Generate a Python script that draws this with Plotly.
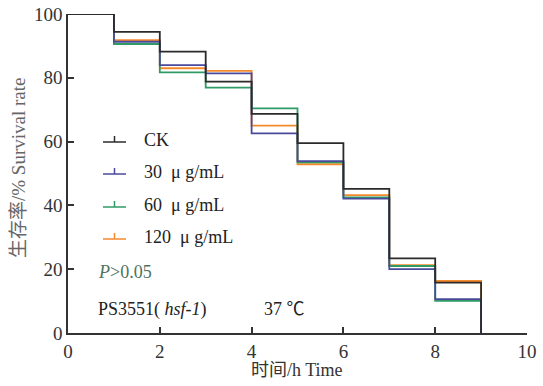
import plotly.graph_objects as go

# ---- data ----
times = [0, 1, 2, 3, 4, 5, 6, 7, 8, 9, 9]
series_names = ["CK", "30\u00a0\u00a0μ g/mL", "60\u00a0\u00a0μ g/mL", "120\u00a0\u00a0μ g/mL"]
ck    = [100, 94.4, 88.2, 78.8, 68.7, 59.5, 45.2, 23.4, 15.8, 15.8, 0]
c30   = [100, 91.3, 84.0, 81.4, 62.6, 53.9, 42.1, 20.0, 10.6, 10.6, 0]
c60   = [100, 90.6, 81.7, 76.9, 70.4, 53.5, 42.5, 21.0, 10.1, 10.1, 0]
c120  = [100, 91.8, 83.0, 82.2, 65.0, 52.9, 43.2, 21.3, 16.3, 16.3, 0]
colors = ["#2b2b2b", "#4a4a9c", "#2f9a66", "#f58a2c"]
x_ticks = [0, 2, 4, 6, 8, 10]
y_ticks = [0, 20, 40, 60, 80, 100]

W, H = 543, 386
PL, PR, PT, PB = 68, 527, 14, 333   # plot area in page pixels
L, T, R, B = PL, PT, W - PR, H - PB
pw, ph = PR - PL, PB - PT

def px(x):
    return (x - PL) / pw

def py(y):
    return (PB - y) / ph

FONT = "Liberation Serif, Noto Sans CJK SC"

fig = go.Figure()
data = [ck, c30, c60, c120]
order = [3, 2, 1, 0]
for i in order:
    fig.add_trace(go.Scatter(
        x=times, y=data[i], mode="lines", line_shape="hv",
        line=dict(color=colors[i], width=1.8),
        name=series_names[i], showlegend=False, cliponaxis=False,
    ))

shapes = []
annotations = []
rows = [140, 172, 205, 237]
for i, name in enumerate(series_names):
    ly = rows[i] + 2
    shapes.append(dict(type="line", xref="paper", yref="paper",
                       x0=px(103), x1=px(126), y0=py(ly), y1=py(ly),
                       line=dict(color=colors[i], width=1.5)))
    shapes.append(dict(type="line", xref="paper", yref="paper",
                       x0=px(114.5), x1=px(114.5), y0=py(ly), y1=py(ly - 6),
                       line=dict(color=colors[i], width=1.5)))
    annotations.append(dict(text=name, xref="paper", yref="paper",
                            x=px(142), y=py(rows[i]), xanchor="left", yanchor="middle",
                            showarrow=False, font=dict(family=FONT, size=18, color="#222")))

annotations.append(dict(text="<i>P</i>>0.05", xref="paper", yref="paper",
                        x=px(96), y=py(272), xanchor="left", yanchor="middle",
                        showarrow=False, font=dict(family=FONT, size=18, color="#4d7360")))
annotations.append(dict(text="PS3551(\u00a0<i>hsf-1</i>)", xref="paper", yref="paper",
                        x=px(96), y=py(309), xanchor="left", yanchor="middle",
                        showarrow=False, font=dict(family=FONT, size=18, color="#222")))
annotations.append(dict(text="37 ℃", xref="paper", yref="paper",
                        x=px(262), y=py(309), xanchor="left", yanchor="middle",
                        showarrow=False, font=dict(family=FONT, size=18, color="#222")))
annotations.append(dict(text="时间/h Time", xref="paper", yref="paper",
                        x=px(297), y=py(370), xanchor="center", yanchor="middle",
                        showarrow=False, font=dict(family=FONT, size=18, color="#333")))
annotations.append(dict(text="生存率/% Survival rate", xref="paper", yref="paper",
                        x=px(18), y=py(168), xanchor="center", yanchor="middle",
                        textangle=-90, showarrow=False,
                        font=dict(family=FONT, size=19, color="#666")))

fig.update_layout(
    width=W, height=H,
    margin=dict(l=L, r=R, t=T, b=B, autoexpand=False),
    paper_bgcolor="white", plot_bgcolor="white",
    font=dict(family=FONT, size=16, color="#333"),
    shapes=shapes, annotations=annotations,
    xaxis=dict(range=[0, 10], tickvals=x_ticks, ticks="inside", ticklen=6,
               tickwidth=1.5, tickcolor="#333", showline=True, linecolor="#333",
               linewidth=1.5, showgrid=False, zeroline=False, automargin=False,
               ticklabeloverflow="allow",
               tickfont=dict(family=FONT, size=19, color="#333")),
    yaxis=dict(range=[0, 100], tickvals=y_ticks, ticks="inside", ticklen=6,
               tickwidth=1.5, tickcolor="#333", showline=True, linecolor="#333",
               linewidth=1.5, showgrid=False, zeroline=False, automargin=False,
               ticklabeloverflow="allow",
               tickfont=dict(family=FONT, size=19, color="#333")),
)

fig.write_html("out.html", config={"displayModeBar": False},
               post_script="document.body.style.margin='0';")
